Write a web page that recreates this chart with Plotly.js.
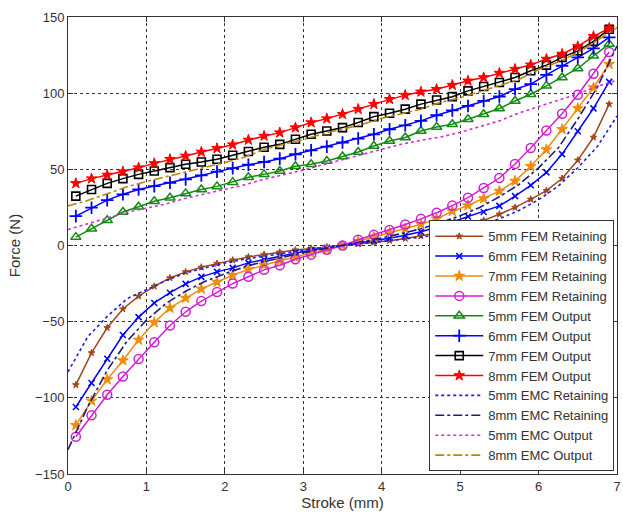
<!DOCTYPE html>
<html>
<head>
<meta charset="utf-8">
<script src="https://cdn.plot.ly/plotly-3.0.1.min.js"></script>
<style>html,body{margin:0;padding:0;background:#fff;}#chart{width:623px;height:514px;}</style>
</head>
<body>
<div id="chart"></div>
<script>
// FEM sample positions (mm)
var xFEM = [0.1,0.3,0.5,0.7,0.9,1.1,1.3,1.5,1.7,1.9,2.1,2.3,2.5,2.7,2.9,3.1,3.3,3.5,3.7,3.9,4.1,4.3,4.5,4.7,4.9,5.1,5.3,5.5,5.7,5.9,6.1,6.3,6.5,6.7,6.9];
// EMC sample positions (mm)
var xEMC = [0,0.25,0.5,0.75,1,1.25,1.5,1.75,2,2.25,2.5,2.75,3,3.25,3.5,3.75,4,4.25,4.5,4.75,5,5.25,5.5,5.75,6,6.25,6.5,6.75,7];

var fem5Ret = [-91.5,-70.5,-54,-41.7,-33.3,-26.8,-21.3,-17.3,-14.3,-11.8,-9.6,-7.5,-5.9,-4.4,-3,-1.9,-0.9,0,1,2,3.2,4.6,6.2,8.2,10.5,13.3,16.5,20.5,25,30.3,36,44,56,71,92.8];
var fem6Ret = [-106,-90.3,-74.3,-58.8,-47,-37.7,-31,-25.2,-20.6,-17.3,-14.7,-11.4,-9.2,-7,-4.8,-3,-1.5,0,1.5,3,4.8,6.7,9,12,15.5,19,22,26,32.4,39.5,48,60,75,90,107.4];
var fem7Ret = [-118,-102,-88,-75.5,-62,-50.5,-41,-34.5,-28.5,-24,-19.5,-15.8,-12.8,-10,-7.5,-5,-2.5,0,2.8,5.6,8.4,11,14,17.5,22.5,26.3,30.8,35.7,42.3,52,63,76.3,90,103.7,119];
var fem8Ret = [-125.5,-111.5,-98,-86,-74.5,-63.5,-52.5,-43.5,-36.5,-30.5,-25,-20.5,-16,-13,-9,-6,-2.8,0,3.8,7,10.2,13.8,17.5,21.5,26.2,31.4,37.8,44.3,53.5,64,75.5,86.5,99,112.7,127];
var fem5Out = [5.5,11,16.6,22,25.4,29,31.4,34.2,36.8,38.8,41.6,44.8,46.7,48.9,52,53.3,55.5,58.4,61.4,65.3,68.6,70.9,75.2,77.8,79.6,82.9,86.2,89.9,94.9,99.3,104.8,110.3,116.2,124.5,132.2];
var fem6Out = [19.3,24.8,29.8,33.6,36.8,39,41.2,43.4,46,48.5,50.8,53,54.8,57,59.9,62.5,64.9,67.6,70.2,73,76.3,78.9,81.8,85.5,88.7,91.6,94.9,97.8,102.6,105.9,112,118,123.5,129.4,136.6];
var fem7Out = [32.4,36.8,40.8,43.9,46.7,48.9,51.1,53.3,54.8,56.6,59.2,61.7,64.5,66.4,69.7,73,75.2,77.4,80.7,84.6,86.8,89.5,92.8,95.5,97.7,101.5,104.4,107,110.3,114.7,118.4,123.5,127.8,134,142];
var fem8Out = [40.8,43.9,46.3,48.5,51.1,53.9,56.6,58.8,61.4,63.8,66.2,69.3,71.9,74.1,77.4,80.7,83.3,86.2,89.5,92.8,96,98.7,100.9,102.6,105.3,108.1,110.3,113.2,115.8,118.6,122.4,125.7,130.7,137.3,142.6];

var emc5Ret = [-83,-60,-46.5,-35,-29,-23,-18,-14.5,-11.5,-9,-7,-5,-3.2,-1.6,0,1.3,2.6,4,5.5,7.5,10,13.5,17.5,23,30,39,51,65,85];
var emc8Ret = [-134,-106,-82,-63,-49,-38,-30,-23.5,-18.5,-14,-10.5,-7.5,-4.8,-2.3,0,2.5,5,7.8,11,15,19.5,25,32,40,51,64,83,104,131];
var emc5Out = [10.5,14,18,21.8,24.8,27.3,31,34,37,39.8,43.5,46.5,49.5,53,56.5,59.8,63.5,66.5,69,71.2,74.3,77.8,81.8,87,91,95.5,99.5,104.5,108.5];
var emc8Out = [26,29.5,34,38.5,42,45,48,51.5,54.5,58,63,66.5,69.5,73.3,76.5,79.5,83.5,86.5,89.5,94,97,101,105,109,115.5,120.5,126.5,135,143];

var names = ['5mm FEM Retaining','6mm FEM Retaining','7mm FEM Retaining','8mm FEM Retaining',
             '5mm FEM Output','6mm FEM Output','7mm FEM Output','8mm FEM Output',
             '5mm EMC Retaining','8mm EMC Retaining','5mm EMC Output','8mm EMC Output'];

function fem(y, name, color, sym, size, mlw){
  return {x:xFEM, y:y, name:name, type:'scatter', mode:'lines+markers',
    line:{color:color, width:1.5},
    marker:{symbol:sym, size:size, color:color, line:{color:color, width:mlw}}};
}
function emc(y, name, color, dash){
  return {x:xEMC, y:y, name:name, type:'scatter', mode:'lines',
    line:{color:color, width:1.6, dash:dash}};
}

var traces = [
  fem(fem5Ret, names[0], '#a0461e', 'star', 5, 1),
  fem(fem6Ret, names[1], '#0000ff', 'x-thin-open', 6, 1.5),
  fem(fem7Ret, names[2], '#ee8c10', 'star', 8, 1),
  fem(fem8Ret, names[3], '#d21ed2', 'circle-open', 9, 1.5),
  fem(fem5Out, names[4], '#138a13', 'triangle-up-open', 9, 1.5),
  fem(fem6Out, names[5], '#0000ff', 'cross-thin-open', 9, 1.8),
  fem(fem7Out, names[6], '#000000', 'square-open', 8, 1.6),
  fem(fem8Out, names[7], '#ff0000', 'star', 8, 1),
  emc(emc5Ret, names[8], '#1e1edc', 'dot'),
  emc(emc8Ret, names[9], '#1c1c78', 'dashdot'),
  emc(emc5Out, names[10], '#cc33cc', 'dot'),
  emc(emc8Out, names[11], '#b8860b', 'dashdot')
];

var axisFont = {family:'Liberation Sans, Arial, sans-serif', size:13, color:'#333'};
var layout = {
  width:623, height:514,
  margin:{l:68, r:6, t:17, b:40},
  paper_bgcolor:'#fff', plot_bgcolor:'#fff',
  showlegend:true,
  font:{family:'Liberation Sans, Arial, sans-serif', size:13, color:'#333'},
  xaxis:{range:[0,7], dtick:1, tick0:0, showgrid:true, gridcolor:'#333', griddash:'3px,3px', gridwidth:1,
    zeroline:false, showline:true, linecolor:'#333', linewidth:1, mirror:'ticks', ticks:'inside', ticklen:5,
    tickcolor:'#333', tickfont:axisFont,
    title:{text:'Stroke (mm)', font:{family:'Liberation Sans, Arial, sans-serif', size:15, color:'#333'}, standoff:4}},
  yaxis:{range:[-150,150], dtick:50, tick0:0, showgrid:true, gridcolor:'#333', griddash:'3px,3px', gridwidth:1,
    zeroline:false, showline:true, linecolor:'#333', linewidth:1, mirror:'ticks', ticks:'inside', ticklen:5,
    tickcolor:'#333', tickfont:axisFont,
    title:{text:'Force (N)', font:{family:'Liberation Sans, Arial, sans-serif', size:15, color:'#333'}, standoff:10}},
  legend:{x:0.995, xanchor:'right', y:0.006, yanchor:'bottom', bgcolor:'#fff', bordercolor:'#333', borderwidth:1,
    font:{family:'Liberation Sans, Arial, sans-serif', size:13, color:'#333'}, itemwidth:48, tracegroupgap:0}
};

Plotly.newPlot('chart', traces, layout, {displayModeBar:false, staticPlot:true});
</script>
</body>
</html>
